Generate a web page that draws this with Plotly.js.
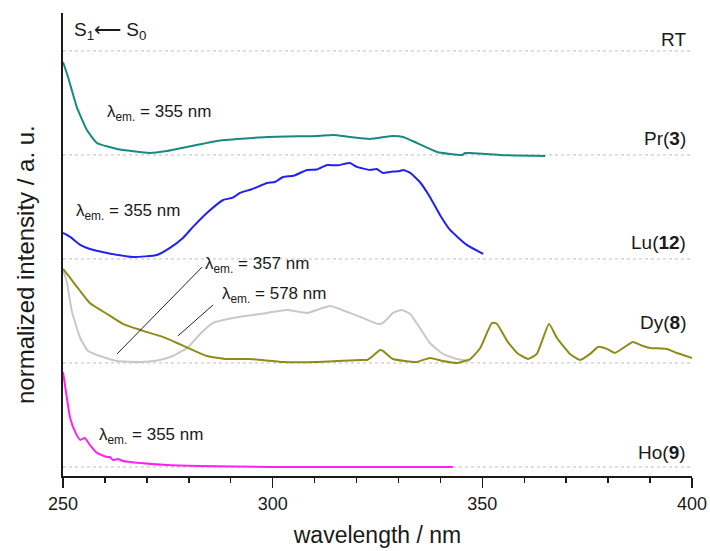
<!DOCTYPE html>
<html>
<head>
<meta charset="utf-8">
<script src="https://cdn.plot.ly/plotly-3.0.1.min.js"></script>
<style>html,body{margin:0;padding:0;background:#fff;}#chart{width:710px;height:551px;}</style>
</head>
<body>
<div id="chart"></div>
<script>
// Wavelength (nm) and normalized intensity (relative to each trace's baseline, 1 unit = baseline spacing)
const prX = [250,251.2,253.3,255.7,258.1,262.9,270.7,274.8,279.6,286.7,298.7,310.6,314.4,318.4,323.2,328.7,331.1,334.4,339.2,342.3,345.2,345.9,347.1,354.2,365];
const prY = [0.894,0.75,0.46,0.24,0.115,0.058,0.019,0.038,0.077,0.135,0.173,0.183,0.192,0.173,0.154,0.183,0.173,0.115,0.029,0.01,0,0.019,0.019,0,-0.01];

const luX = [250,251.7,254.1,256.4,260.5,266.7,272.4,275.5,278.6,281,284.3,288.2,290.5,292.2,295,298.7,300.5,302.5,305,308.2,310.5,313,315.5,318.4,320.1,323.2,324.8,326.3,328,330.4,331.1,332.8,335.1,337.5,339.9,342.3,346.3,350.2];
const luY = [0.25,0.212,0.135,0.096,0.058,0.019,0.038,0.106,0.202,0.308,0.442,0.567,0.59,0.635,0.67,0.731,0.74,0.788,0.80,0.856,0.86,0.904,0.90,0.923,0.885,0.856,0.865,0.827,0.837,0.846,0.856,0.827,0.74,0.596,0.423,0.279,0.135,0.048];

const dyX = [250,251.7,254.1,256.4,260.5,264.3,269.1,273.1,277.2,280.3,284.3,289.1,294.6,302.5,310.6,320.8,322.5,323.9,325.6,326.3,328.7,334.4,337.5,340.6,344,347.1,349.5,352.3,353.5,355.9,358.3,360.9,363,365.9,367.8,370.9,373.3,375.7,377.6,379.7,381.6,383.6,385.9,388.3,390,394,396.4,400];
const dyY = [0.904,0.817,0.692,0.577,0.471,0.375,0.308,0.26,0.192,0.135,0.067,0.038,0.038,0.01,0.01,0.029,0.029,0.067,0.125,0.115,0.038,0.01,0.048,0.019,0,0.038,0.144,0.385,0.375,0.212,0.096,0.038,0.087,0.375,0.24,0.087,0.029,0.087,0.154,0.135,0.096,0.144,0.202,0.163,0.144,0.135,0.096,0.048];

const dy357X = [250,251,252.1,254.1,256,258.8,262.9,268.4,273.1,276.2,279.6,282.7,285.8,290.5,298.7,303.4,308.2,313.7,318.4,321.5,325.1,326.3,328.7,330.8,332.8,335.1,337.5,340.6,344,347.1];
const dy357Y = [0.904,0.76,0.5,0.24,0.115,0.067,0.019,0.01,0.029,0.067,0.144,0.279,0.385,0.433,0.481,0.51,0.481,0.548,0.481,0.433,0.375,0.385,0.481,0.51,0.471,0.337,0.192,0.087,0.038,0.019];

const hoX = [250,251,251.7,252.9,254.1,255.2,256.4,258.1,260.5,261.2,261.9,263.1,264.3,268.4,274.8,282.7,298.7,320.8,343];
const hoY = [0.913,0.644,0.471,0.337,0.26,0.279,0.212,0.135,0.096,0.096,0.067,0.077,0.058,0.038,0.019,0.01,0,0,0];

const sampleLabels = ["Ho(<b>9</b>)","Dy(<b>8</b>)","Lu(<b>12</b>)","Pr(<b>3</b>)","RT"];
const emLabels = ["λ<sub>em.</sub> = 355 nm","λ<sub>em.</sub> = 355 nm","λ<sub>em.</sub> = 357 nm","λ<sub>em.</sub> = 578 nm","λ<sub>em.</sub> = 355 nm"];
const xTicks = [250,300,350,400];

const FONT = "Arial, 'Liberation Sans', sans-serif";
function off(arr, o){ return arr.map(v => v + o); }

const series = [
  {x: prX, y: prY, o: 3, c: "#178a80"},
  {x: luX, y: luY, o: 2, c: "#2222f0"},
  {x: dy357X, y: dy357Y, o: 1, c: "#c8c8c8"},
  {x: dyX, y: dyY, o: 1, c: "#8c8c16"},
  {x: hoX, y: hoY, o: 0, c: "#ff22f0"}
];

const traces = [];
// dotted baselines
for (let i = 0; i < sampleLabels.length; i++) {
  traces.push({x: [250, 400], y: [i, i], mode: "lines", line: {color: "#bdbdbd", width: 1, dash: "dot"}, hoverinfo: "skip", showlegend: false});
}
series.forEach(s => traces.push({x: s.x, y: off(s.y, s.o), mode: "lines", line: {color: s.c, width: 2, shape: "spline", smoothing: 0.45}, showlegend: false}));

const ann = [];
const labelY = [0.135, 1.385, 2.154, 3.163, 4.106];
sampleLabels.forEach((t, i) => ann.push({x: 399.05, y: labelY[i], xref: "x", yref: "y", text: t, showarrow: false, xanchor: "right", yanchor: "middle", font: {size: 19, family: FONT, color: "#1a1a1a"}}));
const emPos = [[260.0, 3.404], [252.6, 2.452], [283.4, 1.942], [287.4, 1.654], [258.1, 0.298]];
emLabels.forEach((t, i) => ann.push({x: emPos[i][0], y: emPos[i][1], xref: "x", yref: "y", text: t, showarrow: false, xanchor: "left", yanchor: "middle", font: {size: 17, family: FONT, color: "#1a1a1a"}}));
ann.push({x: 252.2, y: 4.19, xref: "x", yref: "y", text: "S<sub>1</sub>⟵ S<sub>0</sub>", showarrow: false, xanchor: "left", yanchor: "middle", font: {size: 19, family: FONT, color: "#1a1a1a"}});
// y-axis title (placed slightly below centre, as in the reference)
ann.push({x: -0.0604, y: 0.4557, xref: "paper", yref: "paper", text: "normalized intensity / a. u.", textangle: -90, showarrow: false, xanchor: "center", yanchor: "middle", font: {size: 24, family: FONT, color: "#1a1a1a"}});

const shapes = [
  {type: "line", xref: "x", yref: "y", x0: 262.9, y0: 1.087, x1: 283.2, y1: 1.923, line: {color: "#222", width: 1}},
  {type: "line", xref: "x", yref: "y", x0: 277.4, y0: 1.26, x1: 285.8, y1: 1.558, line: {color: "#222", width: 1}}
];

const layout = {
  width: 710, height: 551,
  margin: {l: 63, r: 18, t: 13, b: 75},
  paper_bgcolor: "#fff", plot_bgcolor: "#fff",
  font: {family: FONT, color: "#1a1a1a"},
  xaxis: {
    range: [250, 400], tickvals: xTicks, ticktext: xTicks.map(String),
    ticks: "outside", ticklen: 10, tickwidth: 1.5, tickcolor: "#1a1a1a",
    minor: {dtick: 10, tick0: 250, ticks: "outside", ticklen: 5, tickwidth: 1.5, tickcolor: "#1a1a1a"},
    showline: true, linecolor: "#1a1a1a", linewidth: 2, showgrid: false, zeroline: false,
    tickfont: {size: 18, family: FONT},
    title: {text: "wavelength / nm", font: {size: 23, family: FONT}, standoff: 14}
  },
  yaxis: {
    range: [-0.087, 4.365], showticklabels: false, ticks: "", showgrid: false, zeroline: false,
    showline: true, linecolor: "#1a1a1a", linewidth: 2
  },
  annotations: ann,
  shapes: shapes,
  showlegend: false
};

Plotly.newPlot("chart", traces, layout, {displayModeBar: false, staticPlot: true});
</script>
</body>
</html>
